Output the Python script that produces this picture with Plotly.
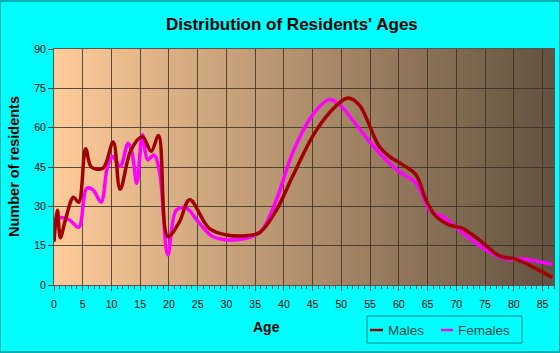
import plotly.graph_objects as go

# Data
male_age = [0, 0.6, 1.1, 2, 3.4, 4.3, 5.5, 6.5, 8.5, 10.3, 11.5, 13.4, 15.4, 16.9, 18.2, 19.8,
            21.8, 23.6, 27, 30, 33.4, 35.8, 38.7, 41.5, 45, 47.9, 51.1, 53.1, 56.6, 58.4,
            60.7, 63, 64.7, 66.5, 68.8, 71.1, 74, 77.5, 80.4, 82.7, 86.7]
male_val = [16.5, 28.5, 18, 25, 33.5, 31.5, 52, 45, 44.5, 54.5, 36.5, 51.5, 56.5, 51, 57, 18.5,
            24, 32.5, 21.6, 19.1, 18.8, 20, 28.6, 41.4, 56.7, 65.6, 71.3, 68.7, 52.8, 49,
            45.8, 42, 32.5, 26.1, 22.9, 21.6, 17.2, 11.1, 9.8, 7.6, 2.9]

female_age = [0, 1.3, 2.7, 4.3, 5.7, 6.8, 8.2, 9.3, 10.2, 11.5, 12.9, 13.6, 14.4, 15.4, 16.3,
              17.4, 18.4, 19.8, 21.3, 23, 25.3, 27.6, 30.3, 33.4, 36, 38.7, 41.5, 45, 47.9,
              49.7, 52.6, 56.6, 60, 63, 65.6, 67.6, 72.3, 75.2, 78.6, 81.5, 86.7]
female_val = [24.8, 25.7, 24.8, 22, 36.9, 36.3, 31.6, 45, 49, 45.2, 54.1, 50.3, 38.8, 57.3, 47.7,
              49.6, 42.6, 11.5, 28.6, 29.3, 23.5, 18.5, 17.2, 17.8, 20.4, 32.5, 50.3, 64.9, 70.7,
              68.7, 61.1, 50.3, 43.3, 38.8, 28, 26.1, 17.8, 13.4, 9.9, 9.9, 7.9]

x_ticks = list(range(0, 90, 5))
y_ticks = list(range(0, 91, 15))

MALE_C = "#a00000"
FEMALE_C = "#ff00ff"
FONT = "Liberation Sans, Arial, sans-serif"

fig = go.Figure()
fig.add_trace(go.Scatter(x=female_age, y=female_val, mode="lines", name="Females",
                         line=dict(color=FEMALE_C, width=3.5, shape="spline", smoothing=1),
                         showlegend=False))
fig.add_trace(go.Scatter(x=male_age, y=male_val, mode="lines", name="Males",
                         line=dict(color=MALE_C, width=3.5, shape="spline", smoothing=1),
                         showlegend=False))

# Gradient background via thin rectangles
shapes = []
N = 125
c0 = (255, 204, 153)
c1 = (98, 82, 64)
for i in range(N):
    t = i / (N - 1)
    c = tuple(round(c0[k] + (c1[k] - c0[k]) * t) for k in range(3))
    shapes.append(dict(type="rect", xref="x domain", yref="y domain",
                       x0=i / N, x1=(i + 1) / N + 0.002, y0=0, y1=1,
                       fillcolor="rgb(%d,%d,%d)" % c, line=dict(width=0), layer="below"))

# Custom legend
shapes.append(dict(type="rect", xref="paper", yref="paper",
                   x0=(367 - 54) / 500, x1=(522 - 54) / 500,
                   y0=(285 - 343) / 236, y1=(285 - 316) / 236,
                   line=dict(color="#008080", width=1), fillcolor="rgba(0,0,0,0)"))
shapes.append(dict(type="line", xref="paper", yref="paper",
                   x0=(370 - 54) / 500, x1=(383 - 54) / 500,
                   y0=(285 - 330) / 236, y1=(285 - 330) / 236,
                   line=dict(color=MALE_C, width=2.5)))
shapes.append(dict(type="line", xref="paper", yref="paper",
                   x0=(441 - 54) / 500, x1=(453 - 54) / 500,
                   y0=(285 - 330) / 236, y1=(285 - 330) / 236,
                   line=dict(color=FEMALE_C, width=2.5)))
# outer border of image
shapes.append(dict(type="rect", xref="paper", yref="paper",
                   x0=-54 / 500, x1=(560 - 54 - 1) / 500 + 0.0015,
                   y0=-(353 - 285 - 1) / 236, y1=1 + 48 / 236,
                   line=dict(color="#009a9a", width=1.5), fillcolor="rgba(0,0,0,0)"))

annotations = [
    dict(text="Distribution of Residents' Ages", xref="paper", yref="paper",
         x=(292 - 54) / 500, y=1 + (49 - 24) / 236, xanchor="center", yanchor="middle",
         showarrow=False, font=dict(family=FONT, size=17, color="black", weight="bold")),
    dict(text="Age", xref="paper", yref="paper", x=(266 - 54) / 500, y=(285 - 327) / 236,
         xanchor="center", yanchor="middle", showarrow=False,
         font=dict(family=FONT, size=14, color="black", weight="bold")),
    dict(text="Number of residents", xref="paper", yref="paper", x=(14 - 54) / 500,
         y=(285 - 167) / 236, xanchor="center", yanchor="middle", textangle=-90,
         showarrow=False, font=dict(family=FONT, size=14.5, color="black", weight="bold")),
    dict(text="Males", xref="paper", yref="paper", x=(386 - 54) / 500, y=(285 - 330) / 236,
         xanchor="left", yanchor="middle", showarrow=False,
         font=dict(family=FONT, size=13.5, color="#004848")),
    dict(text="Females", xref="paper", yref="paper", x=(456 - 54) / 500, y=(285 - 330) / 236,
         xanchor="left", yanchor="middle", showarrow=False,
         font=dict(family=FONT, size=13.5, color="#004848")),
]

fig.update_layout(
    width=560, height=353,
    margin=dict(l=54, r=6, t=49, b=68),
    paper_bgcolor="#00ffff",
    plot_bgcolor="#ffcc99",
    shapes=shapes,
    annotations=annotations,
    showlegend=False,
    font=dict(family=FONT, size=10, color="black"),
)
fig.update_xaxes(range=[0, 87], tickvals=x_ticks, ticks="outside", ticklen=5,
                 tickcolor="#444", showgrid=True, gridcolor="rgba(55,45,35,0.8)", gridwidth=1,
                 showline=True, linecolor="#555", linewidth=1, mirror=True, zeroline=False,
                 ticklabelstandoff=4,
                 minor=dict(dtick=1, ticks="outside", ticklen=3, tickcolor="#444", showgrid=False),
                 tickfont=dict(family=FONT, size=10.5, color="black"), fixedrange=True)
fig.update_yaxes(range=[0, 90], tickvals=y_ticks, ticks="outside", ticklen=5,
                 tickcolor="#444", showgrid=True, gridcolor="rgba(55,45,35,0.8)", gridwidth=1,
                 showline=True, linecolor="#555", linewidth=1, mirror=True, zeroline=False,
                 tickfont=dict(family=FONT, size=10.5, color="black"), fixedrange=True)

fig.write_html("out.html")
